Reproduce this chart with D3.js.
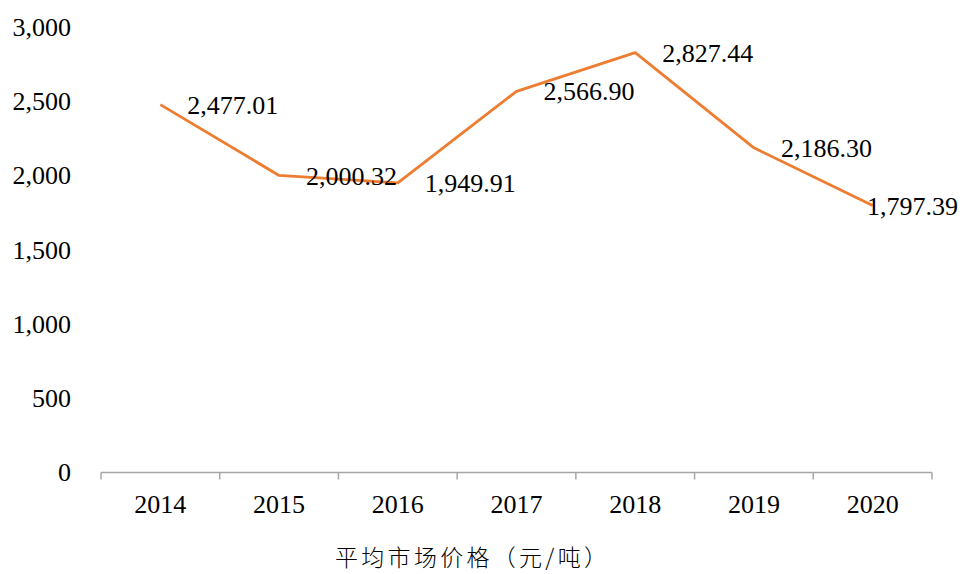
<!DOCTYPE html>
<html lang="zh">
<head>
    <meta charset="UTF-8">
    <title>平均市场价格</title>
    <style>
        body { margin: 0; background: #fff; }
        svg { display: block; }
        .num { font-family: "Liberation Serif", "Times New Roman", serif; font-size: 26px; fill: #000; }
        .title { font-family: "Noto Sans CJK SC", sans-serif; font-size: 23px; font-weight: 300; fill: #000; }
    </style>
</head>
<body>
<script src="https://d3js.org/d3.v7.min.js"></script>
<script>
    // 数据
    const years = ['2014', '2015', '2016', '2017', '2018', '2019', '2020'];
    const prices = [2477.01, 2000.32, 1949.91, 2566.90, 2827.44, 2186.30, 1797.39];
    const yTicks = [0, 500, 1000, 1500, 2000, 2500, 3000];
    const titleText = '平均市场价格（元/吨）';

    const width = 963, height = 574;
    const plotLeft = 101, plotRight = 932, plotTop = 27, plotBottom = 472.5;

    const svg = d3.select('body').append('svg')
        .attr('width', width)
        .attr('height', height);

    const x = d3.scaleBand().domain(years).range([plotLeft, plotRight]).padding(0);
    const y = d3.scaleLinear().domain([0, 3000]).range([plotBottom, plotTop]);
    const cx = d => x(d) + x.bandwidth() / 2;

    // y 轴，只有标签
    const yAxis = d3.axisLeft(y).tickValues(yTicks).tickSize(0).tickPadding(0)
        .tickFormat(d3.format(','));
    svg.append('g')
        .attr('transform', 'translate(71,0)')
        .call(yAxis)
        .call(g => g.select('.domain').remove())
        .call(g => g.selectAll('text').attr('class', 'num'));

    // x 轴
    const xAxis = d3.axisBottom(x).tickSize(0).tickPadding(22);
    svg.append('g')
        .attr('transform', `translate(0,${plotBottom})`)
        .call(xAxis)
        .call(g => g.select('.domain').remove())
        .call(g => g.selectAll('text').attr('class', 'num'));
    svg.selectAll('g').attr('font-family', null).attr('font-size', null);

    // 轴线与分隔刻度
    const bounds = years.map(d => x(d)).concat([x(years[years.length - 1]) + x.bandwidth()]);
    svg.append('line')
        .attr('x1', plotLeft).attr('x2', plotRight)
        .attr('y1', plotBottom).attr('y2', plotBottom)
        .attr('stroke', '#a6a6a6').attr('stroke-width', 1.5);
    svg.append('g').selectAll('line').data(bounds).enter().append('line')
        .attr('x1', d => d).attr('x2', d => d)
        .attr('y1', plotBottom).attr('y2', plotBottom + 7)
        .attr('stroke', '#a6a6a6').attr('stroke-width', 1.5);

    // 折线
    const line = d3.line().x((d, i) => cx(years[i])).y(d => y(d));
    svg.append('path')
        .datum(prices)
        .attr('d', line)
        .attr('fill', 'none')
        .attr('stroke', '#ed7d31')
        .attr('stroke-width', 2.8)
        .attr('stroke-linejoin', 'round');

    // 数据标签
    const fmt = d3.format(',.2f');
    svg.append('g').selectAll('text').data(prices).enter().append('text')
        .attr('class', 'num')
        .attr('x', (d, i) => cx(years[i]) + 27)
        .attr('y', d => y(d))
        .attr('dy', '0.35em')
        .text(d => fmt(d))
        .each(function () {
            const w = this.getComputedTextLength();
            const xx = +this.getAttribute('x');
            if (xx + w > width - 5) this.setAttribute('x', width - 5 - w);
        });

    // 标题
    svg.append('text')
        .attr('class', 'title')
        .attr('x', 471)
        .attr('y', 566)
        .attr('text-anchor', 'middle')
        .attr('textLength', 272)
        .attr('lengthAdjust', 'spacing')
        .text(titleText);
</script>
</body>
</html>
